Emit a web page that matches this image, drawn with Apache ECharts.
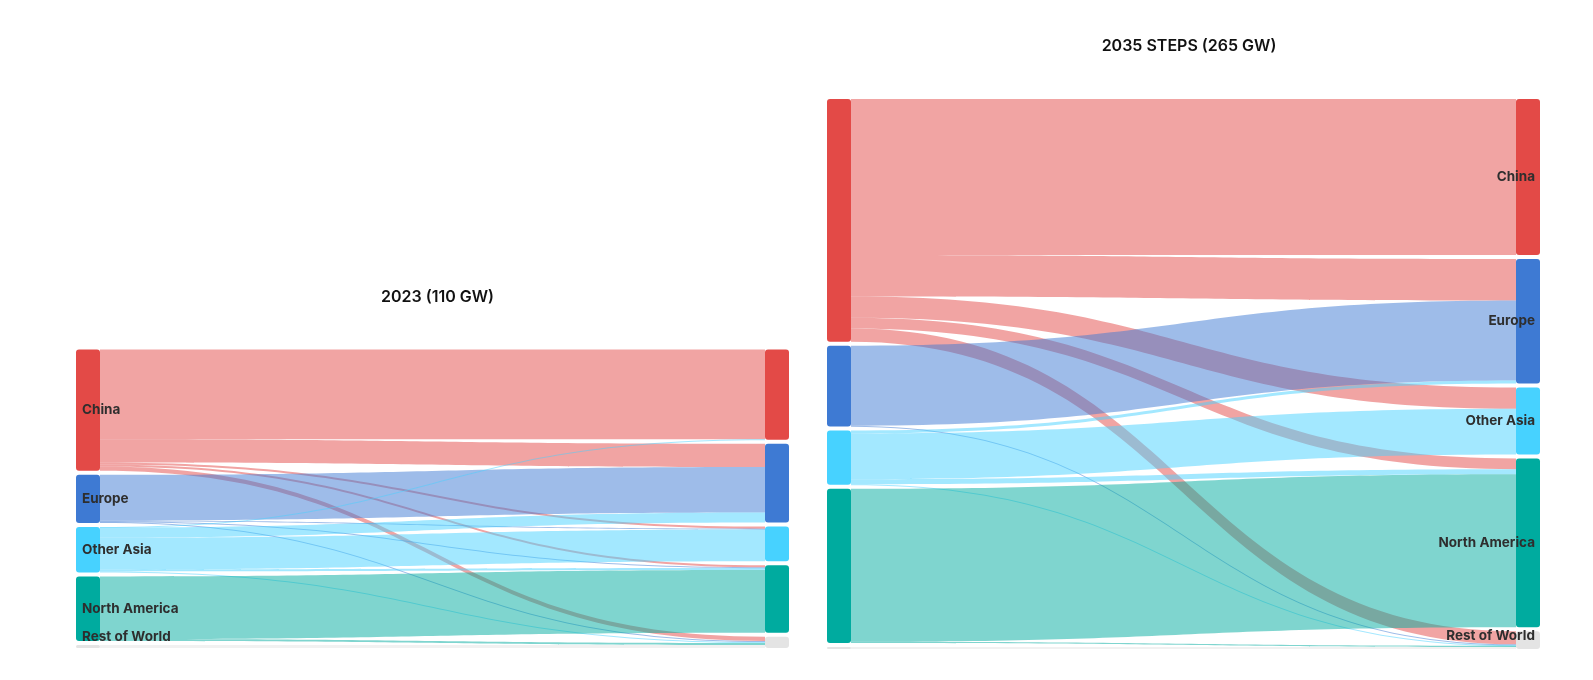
<!DOCTYPE html>
<html>
<head>
<meta charset="utf-8">
<script src="https://cdn.jsdelivr.net/npm/echarts@6/dist/echarts.min.js"></script>
<style>
html,body{margin:0;padding:0;background:#fff}
#c{width:1593px;height:680px}
</style>
</head>
<body>
<div id="c"></div>
<script>
// Regions (same order for sources on the left and destinations on the right)
const regions = ['China', 'Europe', 'Other Asia', 'North America', 'Rest of World'];
const titles = ['2023 (110 GW)', '2035 STEPS (265 GW)'];

// Flows in GW from each source region to [China, Europe, Other Asia, North America, Rest of World]
const china2023   = [35.0, 9.0, 0.8, 0.8, 1.7];
const europe2023  = [0, 17.8, 0.3, 0.3, 0.4];
const otherAsia2023 = [0.2, 3.9, 12.4, 0.8, 0.4];
const northAmerica2023 = [0, 0, 0, 24.4, 0.7];
const restOfWorld2023 = [0, 0, 0, 0, 1.2];

const china2035   = [77.0, 20.5, 10.5, 5.3, 6.5];
const europe2035  = [0, 39.5, 0, 0, 0.4];
const otherAsia2035 = [0, 1.5, 22.5, 2.5, 0.3];
const northAmerica2035 = [0, 0, 0, 75.5, 0.6];
const restOfWorld2035 = [0, 0, 0, 0, 1.0];

// Styling
const nodeColors = ['#E34A47', '#3E7AD3', '#47D2FF', '#00AB9F', '#E4E4E4'];
const FONT = 'Inter, "Noto Sans", Roboto, sans-serif';

function buildSeries(rows, cfg) {
  const nodes = [];
  regions.forEach((r, i) => {
    nodes.push({
      name: 'S|' + r,
      itemStyle: { color: nodeColors[i], borderWidth: 0, borderRadius: 3 },
      label: {
        show: cfg.srcLabel,
        position: 'insideLeft',
        distance: 6,
        offset: (cfg.srcLabel && i === 4) ? [0, -10] : [0, 0]
      }
    });
  });
  regions.forEach((r, i) => {
    nodes.push({
      name: 'T|' + r,
      itemStyle: { color: nodeColors[i], borderWidth: 0, borderRadius: 3 },
      label: {
        show: cfg.tgtLabel,
        position: 'insideRight',
        distance: 5,
        offset: (cfg.tgtLabel && i === 4) ? [0, -4] : [0, 0]
      }
    });
  });
  const links = [];
  rows.forEach((row, i) => {
    row.forEach((v, j) => {
      if (v > 0) links.push({ source: 'S|' + regions[i], target: 'T|' + regions[j], value: v });
    });
  });
  return {
    type: 'sankey',
    left: cfg.left, top: cfg.top, width: cfg.width, height: cfg.height,
    nodeWidth: 24,
    nodeGap: 4,
    layoutIterations: 0,
    draggable: false,
    nodeAlign: 'justify',
    emphasis: { disabled: true },
    silent: true,
    data: nodes,
    links: links,
    itemStyle: { borderWidth: 0 },
    lineStyle: { color: 'source', opacity: 0.5, curveness: 0.5 },
    label: {
      color: '#2e2e2e',
      fontFamily: FONT,
      fontSize: 13.5,
      fontWeight: 700,
      textBorderWidth: 0,
      formatter: p => p.name.split('|')[1]
    }
  };
}

const chart = echarts.init(document.getElementById('c'), null, { renderer: 'canvas' });
chart.setOption({
  animation: false,
  backgroundColor: '#fff',
  graphic: [
    { type: 'text', x: 437.5, y: 297, style: { text: titles[0], font: '600 16px ' + FONT, fill: '#111', align: 'center', verticalAlign: 'middle' } },
    { type: 'text', x: 1189, y: 46.5, style: { text: titles[1], font: '600 16px ' + FONT, fill: '#111', align: 'center', verticalAlign: 'middle' } }
  ],
  series: [
    buildSeries([china2023, europe2023, otherAsia2023, northAmerica2023, restOfWorld2023],
      { left: 76, top: 349.5, width: 713, height: 298.5, srcLabel: true, tgtLabel: false }),
    buildSeries([china2035, europe2035, otherAsia2035, northAmerica2035, restOfWorld2035],
      { left: 827, top: 99, width: 713, height: 550, srcLabel: false, tgtLabel: true })
  ]
});
</script>
</body>
</html>
